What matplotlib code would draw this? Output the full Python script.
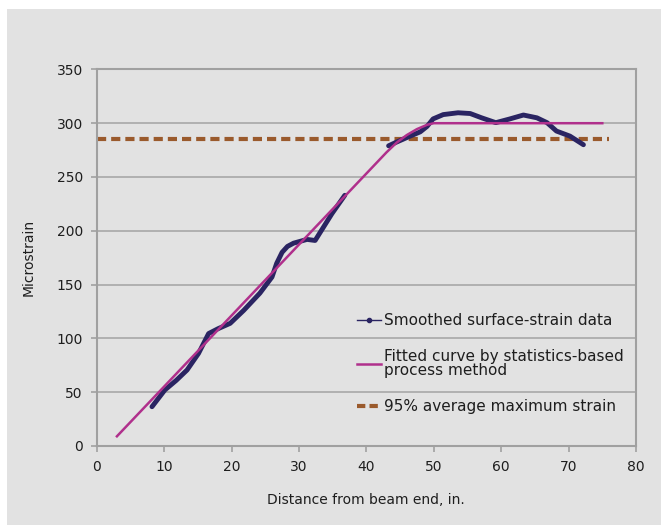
import numpy as np
import matplotlib.pyplot as plt
from matplotlib.lines import Line2D
from matplotlib.patches import Rectangle

plt.rcParams['font.family'] = ['DejaVu Sans']

# smoothed surface-strain data, two measured stretches
x_seg1 = [8.2, 10.1, 11.8, 13.4, 15.1, 16.6, 18.0, 19.8, 21.8, 24.2, 26.0, 26.7,
          27.5, 28.3, 29.2, 31.2, 32.4, 33.4, 34.9, 36.8]
y_seg1 = [36.5, 52, 61, 70.6, 86, 104.5, 109, 114, 126, 142, 157, 169.8,
          180, 185.5, 188.5, 192, 191, 201, 216, 233]
x_seg2 = [43.3, 44.5, 46.5, 48.0, 49.0, 49.9, 51.4, 53.6, 55.4, 57.1, 59.2, 61.3,
          63.3, 65.3, 66.8, 68.2, 70.2, 72.2]
y_seg2 = [279, 282.5, 288, 292, 297, 304, 308, 309.7, 309, 305, 300.5, 304,
          307.6, 305, 300.5, 292.7, 288, 280]

# fitted curve (statistics-based process method)
x_fit = [3, 43, 44.5, 46, 47.5, 49, 50, 75]
y_fit = [9, 273, 282, 289, 294.5, 298.5, 300, 300]

# 95% average maximum strain
x_avg = [0, 76]
y_avg = [285, 285]

navy = '#2a2462'
magenta = '#b0308c'
brown = '#9a5a2c'
txt = '#1e1e1e'

fig = plt.figure(figsize=(6.61, 5.25), dpi=100)
fig.patch.set_facecolor('white')
fig.patches.append(Rectangle((7 / 661, 0), 1, 1 - 9 / 525, transform=fig.transFigure,
                             facecolor='#e2e2e2', edgecolor='none', zorder=-10))

ax = fig.add_axes([0.1463, 0.1505, 0.8159, 0.7173])
ax.set_facecolor('#e2e2e2')

ax.plot(x_avg, y_avg, color=brown, lw=3, dashes=(2.2, 1.2), zorder=2)
ax.plot(x_seg1, y_seg1, color=navy, lw=3.5, solid_capstyle='round', solid_joinstyle='round', zorder=3)
ax.plot(x_seg2, y_seg2, color=navy, lw=3.5, solid_capstyle='round', solid_joinstyle='round', zorder=3)
ax.plot(x_fit, y_fit, color=magenta, lw=1.8, zorder=4)

ax.set_xlim(0, 80)
ax.set_ylim(0, 350)
ax.set_xticks(range(0, 81, 10))
ax.set_yticks(range(0, 351, 50))
ax.yaxis.grid(True, color='#a8a8a8', lw=1.2)
ax.set_axisbelow(True)
for s in ax.spines.values():
    s.set_color('#a0a0a0')
    s.set_linewidth(1.5)
ax.tick_params(colors='#a0a0a0', labelcolor=txt, labelsize=10, length=4, width=1.2)
ax.tick_params(axis='x', pad=6)
ax.tick_params(axis='y', pad=6)

ax.set_xlabel('Distance from beam end, in.', fontsize=10, color=txt, labelpad=14)
ax.set_ylabel('Microstrain', fontsize=10, color=txt, labelpad=15)

handles = [
    Line2D([], [], color=navy, lw=1, marker='o', ms=3),
    Line2D([], [], color=magenta, lw=1.8),
    Line2D([], [], color=brown, lw=3, dashes=(2, 1)),
]
labels = ['Smoothed surface-strain data',
          'Fitted curve by statistics-based\nprocess method',
          '95% average maximum strain']
leg = ax.legend(handles, labels, loc='lower left', bbox_to_anchor=(0.471, 0.069),
                frameon=False, fontsize=11, handlelength=1.6, handletextpad=0.15,
                labelspacing=1.35, borderaxespad=0)
for t in leg.get_texts():
    t.set_linespacing(0.95)
    t.set_color(txt)

fig.savefig('out.png', dpi=100, facecolor=fig.get_facecolor())
